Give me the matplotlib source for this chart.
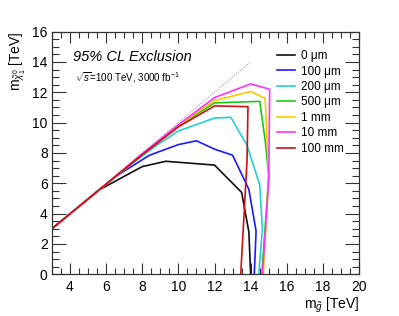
import matplotlib
matplotlib.use("Agg")
import matplotlib.pyplot as plt
from matplotlib.ticker import MultipleLocator

plt.rcParams['font.family'] = ['Liberation Sans', 'DejaVu Sans']
plt.rcParams['mathtext.fontset'] = 'custom'
plt.rcParams['mathtext.rm'] = 'Liberation Sans'
plt.rcParams['mathtext.it'] = 'Liberation Sans:italic'

# exclusion contours, (m_gluino, m_neutralino) in TeV
labels = [u"0 \u03bcm", u"100 \u03bcm", u"200 \u03bcm", u"500 \u03bcm", "1 mm", "10 mm", "100 mm"]
colors = ["#111111", "#1a1aff", "#22d0d0", "#18c818", "#ffc800", "#ff33ff", "#cc1111"]

x_0um = [3, 5.6, 8.0, 9.3, 12.0, 13.5, 13.9, 14.0]
y_0um = [3, 5.55, 7.1, 7.45, 7.2, 5.4, 2.8, 0]
x_100um = [3, 5.6, 6.6, 8.4, 10.0, 11.0, 12.0, 13.0, 13.9, 14.3, 14.2]
y_100um = [3, 5.55, 6.5, 7.85, 8.55, 8.8, 8.25, 7.85, 5.6, 2.85, 0]
x_200um = [3, 5.6, 7.5, 8.8, 10.0, 12.0, 12.9, 13.8, 14.5, 14.65, 14.45]
y_200um = [3, 5.55, 7.35, 8.5, 9.45, 10.3, 10.35, 8.5, 5.9, 3.0, 0]
x_500um = [3, 5.6, 8, 10, 12, 14.5, 14.8, 15.0, 14.62]
y_500um = [3, 5.55, 7.9, 9.78, 11.3, 11.4, 8.85, 6.5, 0]
x_1mm = [3, 5.6, 8, 10, 12, 14, 14.8, 15.0, 14.7]
y_1mm = [3, 5.55, 7.92, 9.82, 11.45, 12.05, 11.6, 6.5, 0]
x_10mm = [3, 5.6, 8, 10, 12, 14, 15.05, 15.0, 14.65]
y_10mm = [3, 5.55, 7.95, 9.86, 11.65, 12.55, 12.2, 6.2, 0]
x_100mm = [3, 5.6, 8, 10, 12, 13.85, 13.8, 13.45]
y_100mm = [3, 5.55, 7.88, 9.72, 11.1, 11.05, 7.5, 0]

xs = [x_0um, x_100um, x_200um, x_500um, x_1mm, x_10mm, x_100mm]
ys = [y_0um, y_100um, y_200um, y_500um, y_1mm, y_10mm, y_100mm]

# kinematic limit m_chi = m_gluino
diag = [3, 14]

fig = plt.figure(figsize=(3.99, 3.16), dpi=100)
ax = fig.add_axes([0.130, 0.132, 0.770, 0.768])

ax.plot(diag, diag, color="#888888", lw=0.7, ls=(0, (1, 1.5)))
for x, y, c, l in zip(xs, ys, colors, labels):
    ax.plot(x, y, color=c, lw=1.2, label=l)

ax.set_xlim(3, 20)
ax.set_ylim(0, 16)
ax.xaxis.set_major_locator(MultipleLocator(2))
ax.xaxis.set_minor_locator(MultipleLocator(0.5))
ax.yaxis.set_major_locator(MultipleLocator(2))
ax.yaxis.set_minor_locator(MultipleLocator(0.5))
ax.tick_params(which="both", direction="in", top=True, right=True, labelsize=10, width=0.8, color="#333333")
ax.tick_params(axis="x", which="major", length=8, pad=4)
ax.tick_params(axis="x", which="minor", length=4.3)
ax.tick_params(axis="y", which="major", length=10, pad=3)
ax.tick_params(axis="y", which="minor", length=5)
for s in ax.spines.values():
    s.set_color("#333333")
    s.set_linewidth(0.9)

ax.set_xlabel(r"$\mathrm{m}_{\tilde{g}}$ [TeV]", fontsize=10, loc="right", labelpad=1)
ax.set_ylabel(r"$\mathrm{m}_{\tilde{\chi}^{0}_{1}}$ [TeV]", fontsize=10, loc="top", labelpad=3)

ax.text(0.068, 0.896, "95% CL Exclusion", transform=ax.transAxes, fontsize=10.5,
        style="italic", va="center")
ax.text(0.075, 0.81, r"$\sqrt{s}$=100 TeV, 3000 fb$^{-1}$", transform=ax.transAxes,
        fontsize=7, va="center")

ax.legend(loc="upper left", bbox_to_anchor=(0.718, 0.943), frameon=False, fontsize=8.5,
          handlelength=1.55, handletextpad=0.45, labelspacing=0.29, borderaxespad=0)

fig.savefig("out.png", dpi=100)
